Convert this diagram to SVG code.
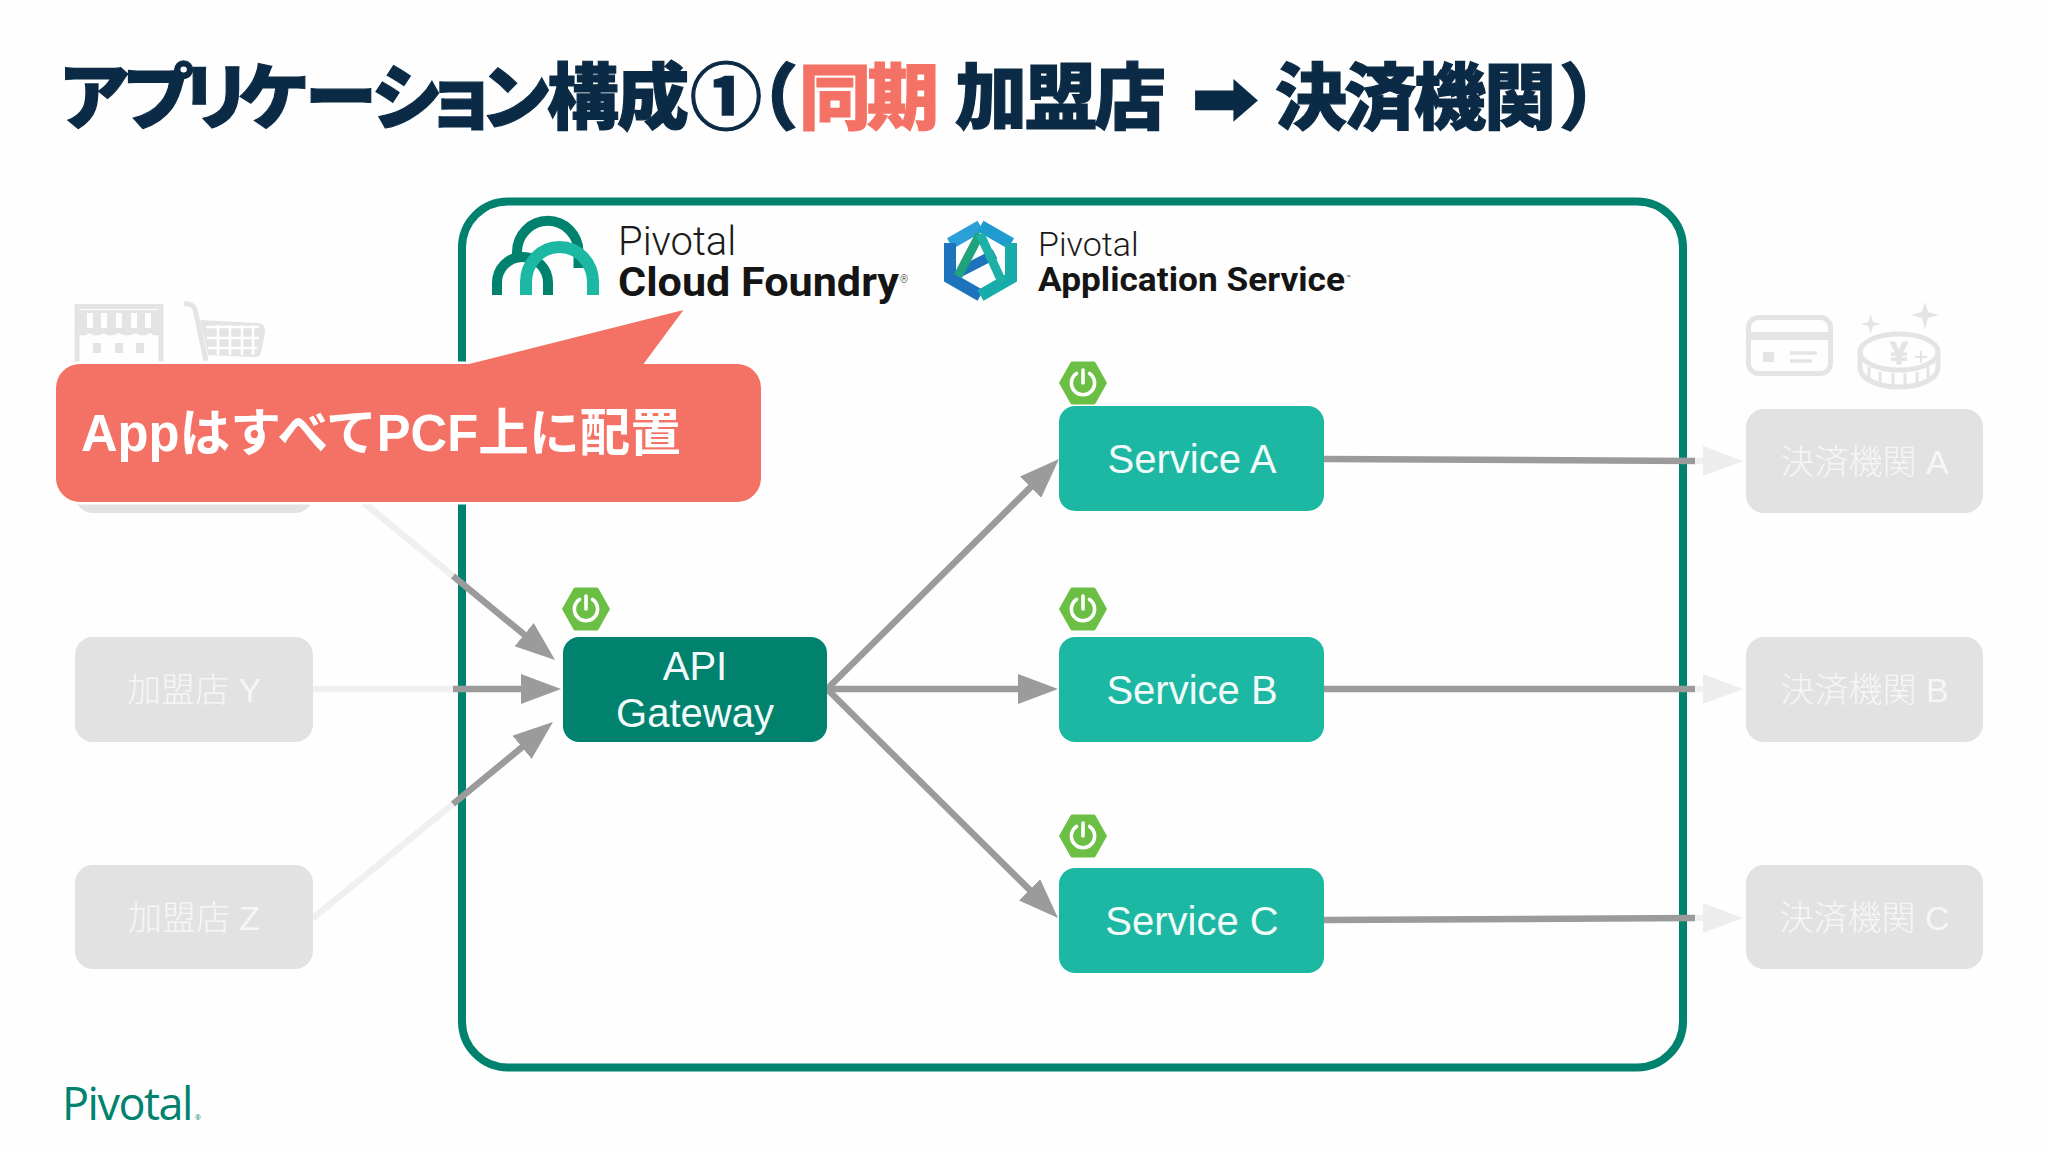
<svg xmlns="http://www.w3.org/2000/svg" width="2048" height="1152" viewBox="0 0 2048 1152">
<style>
.ttl{font-family:"Noto Sans CJK JP",sans-serif;font-weight:900;font-size:72px;fill:#0B2A45;stroke:#0B2A45;stroke-width:1.2px}
.sync{fill:#F47265;stroke:#F47265}
.svc{font-family:"Liberation Sans",sans-serif;font-size:40px;fill:#F2FBF9;text-anchor:middle}
.gray{fill:#E2E2E3}
.gt{font-family:"Liberation Sans","Noto Sans CJK JP",sans-serif;font-size:34px;fill:#F6F6F7;text-anchor:middle;font-weight:300}
.dark{stroke:#9B9B9B;stroke-width:6.5;fill:none}
.light{stroke:#F0F0F1;stroke-width:6.5;fill:none}
.hex{fill:#6CBF45}
.pw{fill:none;stroke:#FFFFFF;stroke-width:3.6;stroke-linecap:round}
.icon{fill:none;stroke:#E4E4E6;stroke-width:5}
.iconf{fill:#E4E4E6}
.lt{font-family:Roboto,sans-serif;font-weight:300;fill:#1A1A1A}
.bd{font-family:Roboto,sans-serif;font-weight:700;fill:#151515}
</style>
<defs>
<marker id="ah" markerUnits="userSpaceOnUse" markerWidth="42" markerHeight="32" refX="20" refY="15" orient="auto"><path d="M0,0 L40,15 L0,30 Z" fill="#9B9B9B"/></marker>
<marker id="al" markerUnits="userSpaceOnUse" markerWidth="42" markerHeight="32" refX="20" refY="15" orient="auto"><path d="M0,0 L40,15 L0,30 Z" fill="#EDEDEE"/></marker>
<g id="power"><path class="pw" d="M-6.5,-9.5 A11.6,11.6 0 1 0 6.5,-9.5"/><path class="pw" d="M0,-13 V0"/></g>
<path id="hexa" class="hex" d="M-24,0 L-12.5,-20.5 Q-12,-21.5 -10.5,-21.5 H10.5 Q12,-21.5 12.5,-20.5 L24,0 L12.5,20.5 Q12,21.5 10.5,21.5 H-10.5 Q-12,21.5 -12.500,20.5 Z"/>
</defs>
<rect width="2048" height="1152" fill="#FEFEFE"/>

<g id="title">
<text class="ttl" y="123"><tspan x="58 122 180 238 305 371 425 480 547 617 690 726">アプリケーション構成①（</tspan><tspan class="sync" x="799 867">同期</tspan><tspan x="955 1025 1094">加盟店</tspan></text>
<text class="ttl" x="1192" y="122" style="font-family:'DejaVu Sans',sans-serif;font-size:69px;stroke-width:2.5px" textLength="66" lengthAdjust="spacingAndGlyphs">➡</text>
<text class="ttl" y="123" x="1275 1344 1414 1484 1559">決済機関）</text>
</g>

<g id="container"><rect x="462" y="201.5" width="1221" height="866" rx="46" ry="46" fill="none" stroke="#00826E" stroke-width="8"/></g>

<g id="pcf-logo">
<path d="M517,256 V252 A30.5,31 0 0 1 578.500,252 V268" fill="none" stroke="#00826E" stroke-width="10"/>
<path d="M497,295 V283 A25.5,26 0 0 1 548,283 V295" fill="none" stroke="#00826E" stroke-width="10"/>
<path d="M526,295 V282 A33.5,35 0 0 1 593,282 V295" fill="none" stroke="#1CB8A4" stroke-width="12"/>
<text class="lt" x="618" y="255" font-size="40">Pivotal</text>
<text class="bd" x="618" y="295.500" font-size="40" textLength="281" lengthAdjust="spacingAndGlyphs">Cloud Foundry</text>
<text class="lt" x="900" y="283" font-size="10">®</text>
</g>

<g id="pas-logo">
<path d="M980.5,226 L950,243.5" fill="none" stroke="#2A9FD8" stroke-width="12"/>
<path d="M980.5,226 L1011,243.5" fill="none" stroke="#1F9BD0" stroke-width="12"/>
<path d="M950,243 V278 L980.5,295.5" fill="none" stroke="#1E74BC" stroke-width="12"/>
<path d="M1011,243 V278 L980.5,295.5" fill="none" stroke="#17ABA9" stroke-width="12"/>
<path d="M960,272 L995,254" fill="none" stroke="#1E74BC" stroke-width="10"/>
<path d="M980,234 L958,276" fill="none" stroke="#1FA37C" stroke-width="9"/>
<path d="M980,234 L1002,282" fill="none" stroke="#1CB0A8" stroke-width="9"/>
<text class="lt" x="1038" y="256" font-size="34">Pivotal</text>
<text class="bd" x="1038" y="290.500" font-size="34" textLength="307" lengthAdjust="spacingAndGlyphs">Application Service</text>
<text class="lt" x="1346" y="281" font-size="8">™</text>
</g>

<g id="connectors">
<path class="light" d="M313,461 L453,576"/>
<path class="light" d="M313,689 H453"/>
<path class="light" d="M313,918 L453,804"/>
<path class="light" d="M1695,461 H1723" marker-end="url(#al)"/>
<path class="light" d="M1695,689 H1723" marker-end="url(#al)"/>
<path class="light" d="M1695,918 H1723" marker-end="url(#al)"/>
<path class="dark" d="M453,576 L539.6,647.3" marker-end="url(#ah)"/>
<path class="dark" d="M453,689 H541" marker-end="url(#ah)"/>
<path class="dark" d="M453,804 L537.5,734.6" marker-end="url(#ah)"/>
<path class="dark" d="M827,689 L1044.8,473.1" marker-end="url(#ah)"/>
<path class="dark" d="M827,689 H1038" marker-end="url(#ah)"/>
<path class="dark" d="M827,689 L1043.8,903.9" marker-end="url(#ah)"/>
<path class="dark" d="M1324,459 L1695,461"/>
<path class="dark" d="M1324,689 H1695"/>
<path class="dark" d="M1324,920 L1695,918"/>
</g>

<g id="shop-icon">
<path class="icon" d="M77,362 V306.500 H161 V362"/>
<path class="iconf" d="M76,333 V310 H162 V333 Q156,338 150,333 Q143,338 136,333 Q126,338 119,333 Q110,338 104,333 Q96,338 90,333 Q83,338 76,333 Z"/>
<path d="M90,313 V328 M104,313 V328 M119,313 V328 M134,313 V328 M148,313 V328" stroke="#FEFEFE" stroke-width="6" fill="none"/>
<rect class="iconf" x="93" y="343" width="8" height="10"/>
<rect class="iconf" x="115" y="343" width="8" height="10"/>
<rect class="iconf" x="136" y="343" width="8" height="10"/>
</g>
<g id="cart-icon">
<path class="icon" d="M184,304 Q192,303 195,309 L206,361"/>
<path class="iconf" d="M200,320 L258,323 Q266,324 265,332 L261,353 Q259,358 254,357 L208,355 Z"/>
<path d="M206,327 H259 M207,338 H259 M208,348 H257 M218,325 V355 M230,325 V355 M242,325 V355 M253,325 V355" stroke="#FEFEFE" stroke-width="2.500" fill="none"/>
</g>
<g id="card-icon">
<rect class="icon" x="1748.500" y="317.500" width="82" height="56" rx="10"/>
<rect class="iconf" x="1749" y="332" width="81" height="8"/>
<rect class="iconf" x="1763" y="352" width="11" height="10"/>
<path d="M1790,353 H1817 M1790,361 H1812" stroke="#E4E4E6" stroke-width="3.500" fill="none"/>
</g>
<g id="coin-icon">
<path class="iconf" d="M1870.700,314 L1873,322 L1881,324 L1873,326 L1870.700,334 L1868.400,326 L1860.700,324 L1868.400,322 Z"/>
<path class="iconf" d="M1925,302 L1928,312 L1939,315 L1928,318 L1925,329 L1922,318 L1911,315 L1922,312 Z"/>
<path class="icon" d="M1860,352 V367 C1860,380 1880,387 1899,387 C1918,387 1938,380 1938,367 V352"/>
<ellipse class="icon" cx="1899" cy="352" rx="39" ry="18"/>
<path d="M1869,367 V382 M1880,372 V385 M1893,373 V387 M1905,373 V387 M1917,372 V385 M1928,367 V382" stroke="#E4E4E6" stroke-width="3" fill="none"/>
<text x="1899" y="364" font-family="'Liberation Sans',sans-serif" font-size="32" font-weight="700" fill="#E4E4E6" stroke="#E4E4E6" stroke-width="1" text-anchor="middle">¥</text>
<path d="M1921,351 V363 M1915,357 H1927" stroke="#E4E4E6" stroke-width="2" fill="none"/>
</g>

<g id="store-x"><rect class="gray" x="75" y="408" width="238" height="105" rx="18"/></g>
<g id="store-y"><rect class="gray" x="75" y="637" width="238" height="105" rx="18"/><text class="gt" x="194" y="702">加盟店 Y</text></g>
<g id="store-z"><rect class="gray" x="75" y="865" width="238" height="104" rx="18"/><text class="gt" x="194" y="930">加盟店 Z</text></g>

<g id="bank-a"><rect class="gray" x="1746" y="409" width="237" height="104" rx="18"/><text class="gt" x="1864.500" y="474">決済機関 A</text></g>
<g id="bank-b"><rect class="gray" x="1746" y="637" width="237" height="105" rx="18"/><text class="gt" x="1864.500" y="702">決済機関 B</text></g>
<g id="bank-c"><rect class="gray" x="1746" y="865" width="237" height="104" rx="18"/><text class="gt" x="1864.500" y="930">決済機関 C</text></g>

<g id="api-gateway">
<rect x="563" y="637" width="264" height="105" rx="16" fill="#00826E"/>
<text class="svc" x="695" y="680">API</text>
<text class="svc" x="695" y="727">Gateway</text>
<use href="#hexa" x="586" y="609"/><use href="#power" x="586" y="609"/>
</g>
<g id="service-a">
<rect x="1059" y="406" width="265" height="105" rx="16" fill="#1CB8A4"/>
<text class="svc" x="1192" y="473">Service A</text>
<use href="#hexa" x="1083" y="383"/><use href="#power" x="1083" y="383"/>
</g>
<g id="service-b">
<rect x="1059" y="637" width="265" height="105" rx="16" fill="#1CB8A4"/>
<text class="svc" x="1192" y="704">Service B</text>
<use href="#hexa" x="1083" y="609"/><use href="#power" x="1083" y="609"/>
</g>
<g id="service-c">
<rect x="1059" y="868" width="265" height="105" rx="16" fill="#1CB8A4"/>
<text class="svc" x="1192" y="935">Service C</text>
<use href="#hexa" x="1083" y="836"/><use href="#power" x="1083" y="836"/>
</g>

<g id="callout">
<path d="M80,364 H469 L683.500,310 L643.500,364 H737 A24,24 0 0 1 761,388 V478 A24,24 0 0 1 737,502 H80 A24,24 0 0 1 56,478 V388 A24,24 0 0 1 80,364 Z" fill="#F47265" stroke="#FFFFFF" stroke-width="5" paint-order="stroke"/>
<text x="81" y="451" font-family="'Liberation Sans','Noto Sans CJK JP',sans-serif" font-weight="700" font-size="51" fill="#FFFFFF" textLength="600" lengthAdjust="spacingAndGlyphs">AppはすべてPCF上に配置</text>
</g>

<g id="footer-logo">
<text x="62" y="1120" font-family="'Open Sans',sans-serif" font-weight="500" font-size="45" letter-spacing="-1.5" fill="#00826E">Pivotal<tspan font-size="7" letter-spacing="0" dx="3">®</tspan></text>
</g>
</svg>
